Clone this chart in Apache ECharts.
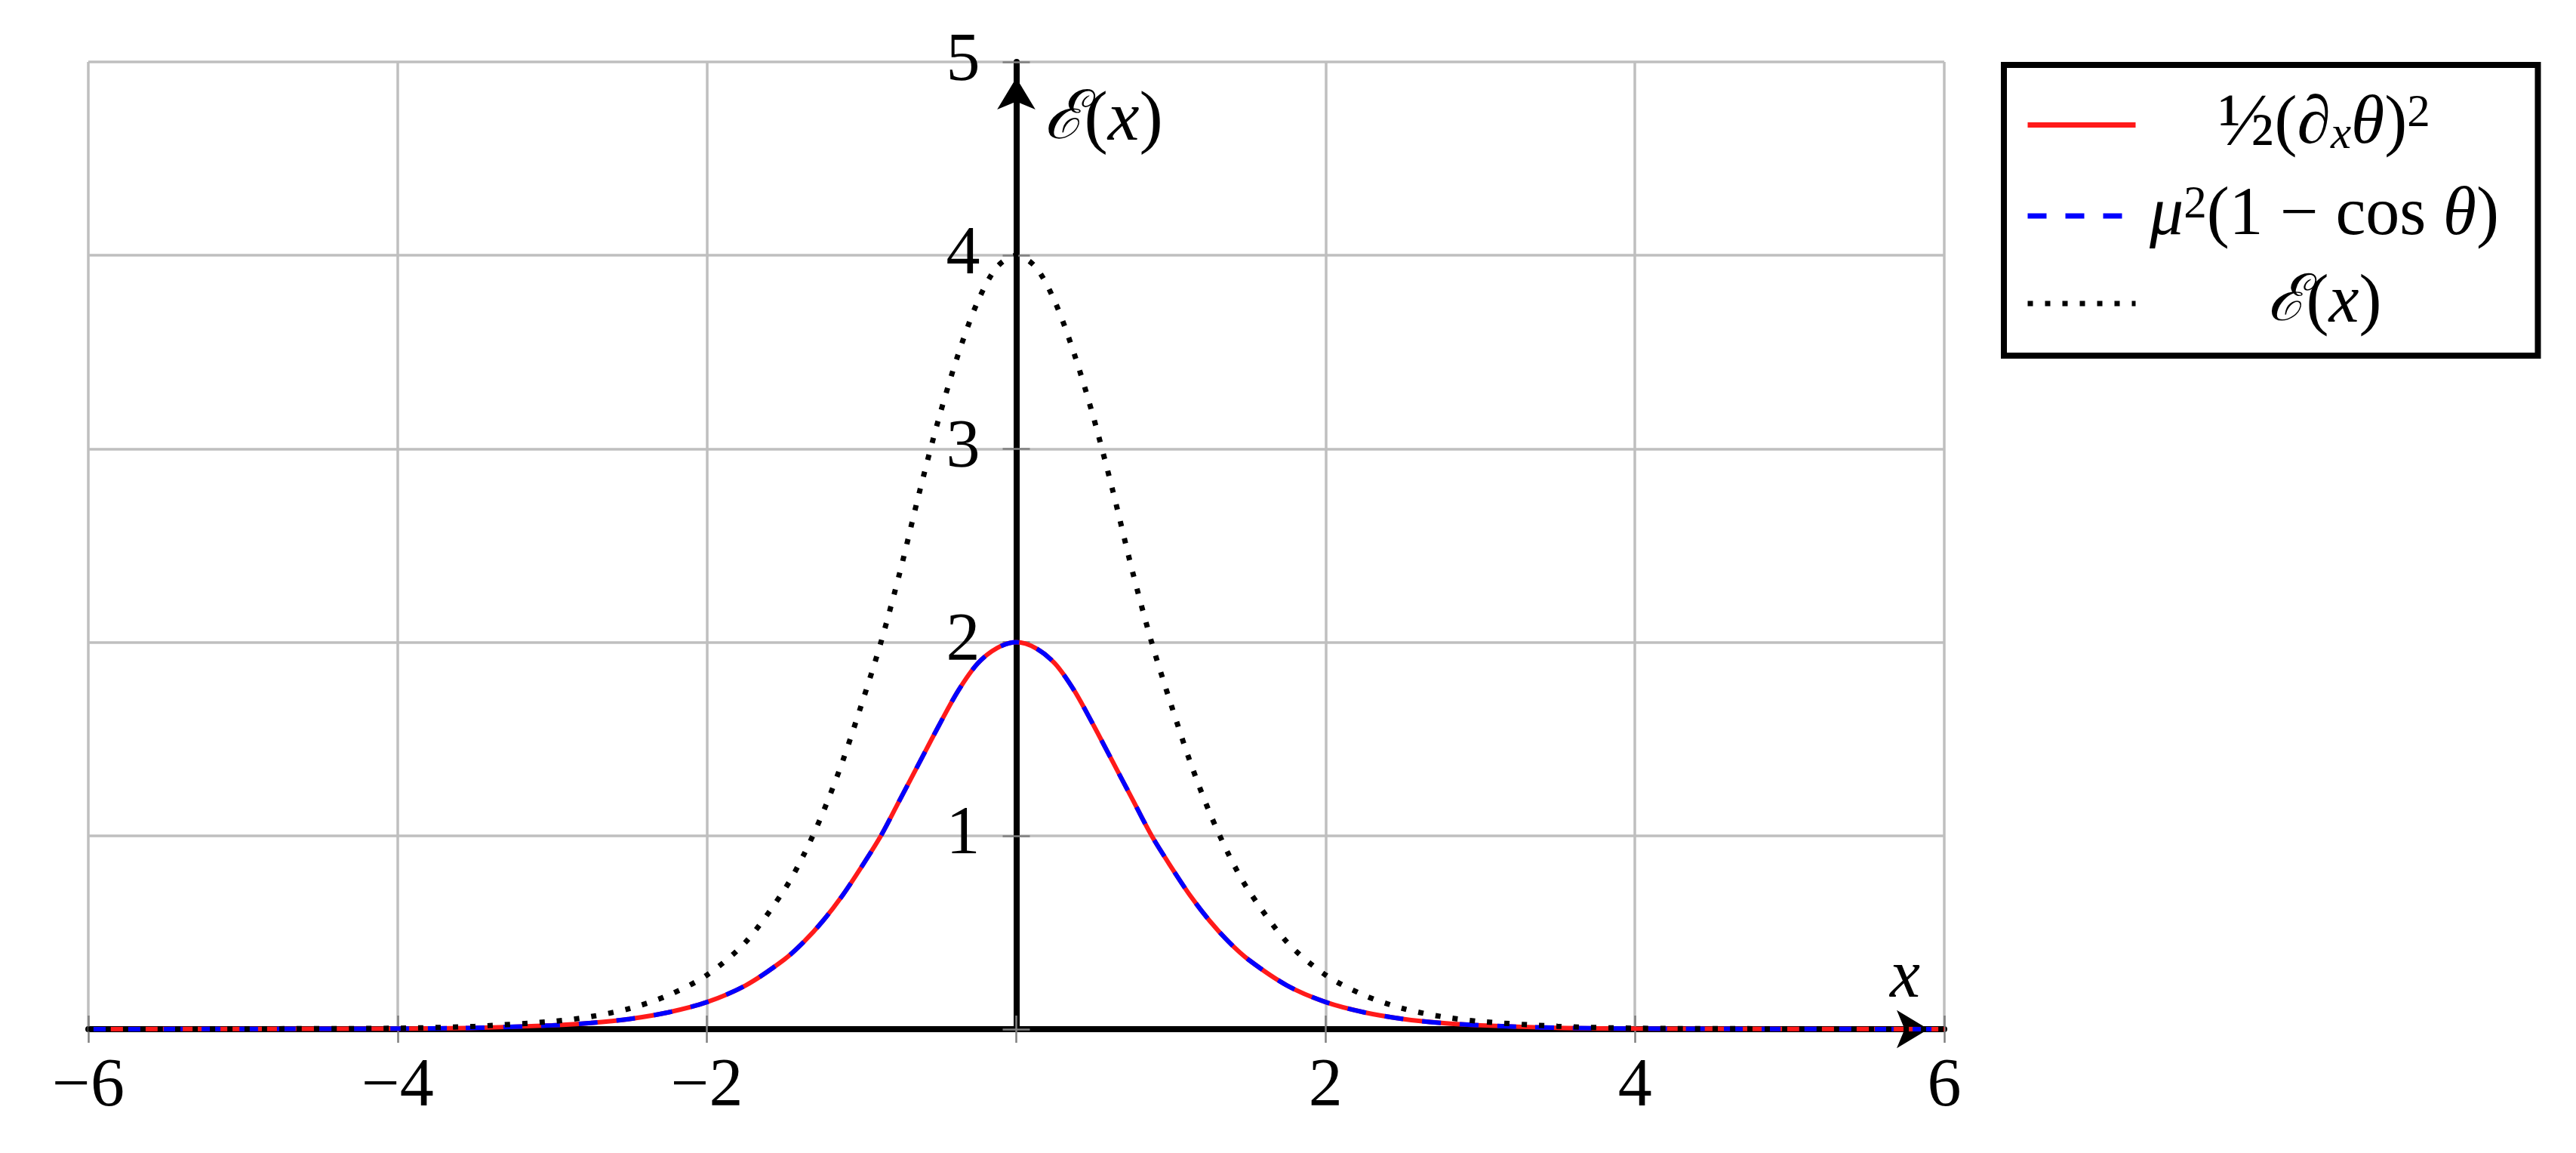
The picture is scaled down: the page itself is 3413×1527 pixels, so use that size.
<!DOCTYPE html>
<html>
<head>
<meta charset="utf-8">
<title>Kink energy density</title>
<script src="https://cdn.jsdelivr.net/npm/echarts@6/dist/echarts.min.js"></script>
<style>
  html, body { margin: 0; padding: 0; background: #fff; }
  #chart { width: 3413px; height: 1527px; }
</style>
</head>
<body>
<div id="chart"></div>
<script>
// values
const xs = [-6, -5, -4, -3.5, -3, -2.75, -2.5, -2.25, -2, -1.75, -1.5, -1.375, -1.25, -1.125, -1, -0.875, -0.75, -0.625,
  -0.5, -0.375, -0.25, -0.125, 0, 0.125, 0.25, 0.375, 0.5, 0.625, 0.75, 0.875, 1, 1.125, 1.25, 1.375, 1.5,
  1.75, 2, 2.25, 2.5, 2.75, 3, 3.5, 4, 5, 6];

// 1/2 (d_x theta)^2  (red, solid)
const gradientTerm = [0, 0.001, 0.003, 0.007, 0.02, 0.032, 0.053, 0.087, 0.14, 0.226, 0.36, 0.45, 0.56, 0.69, 0.84, 1.0, 1.19, 1.38,
  1.57, 1.75, 1.89, 1.97, 2.0, 1.97, 1.89, 1.75, 1.57, 1.38, 1.19, 1.0, 0.84, 0.69, 0.56, 0.45, 0.36,
  0.226, 0.14, 0.087, 0.053, 0.032, 0.02, 0.007, 0.003, 0.001, 0];

// mu^2 (1 - cos theta)  (blue, dashed) – lies on top of the red one
const potentialTerm = [0, 0.001, 0.003, 0.007, 0.02, 0.032, 0.053, 0.087, 0.14, 0.226, 0.36, 0.45, 0.56, 0.69, 0.84, 1.0, 1.19, 1.38,
  1.57, 1.75, 1.89, 1.97, 2.0, 1.97, 1.89, 1.75, 1.57, 1.38, 1.19, 1.0, 0.84, 0.69, 0.56, 0.45, 0.36,
  0.226, 0.14, 0.087, 0.053, 0.032, 0.02, 0.007, 0.003, 0.001, 0];

// E(x)  (black, dotted)
const energyDensity = [0, 0.002, 0.005, 0.015, 0.04, 0.065, 0.107, 0.175, 0.28, 0.45, 0.72, 0.9, 1.12, 1.38, 1.68, 2.0, 2.37, 2.78,
  3.16, 3.49, 3.76, 3.94, 4.0, 3.94, 3.76, 3.49, 3.16, 2.78, 2.37, 2.0, 1.68, 1.38, 1.12, 0.9, 0.72,
  0.45, 0.28, 0.175, 0.107, 0.065, 0.04, 0.015, 0.005, 0.002, 0];

const seriesNames = ["gradient", "potential", "energy"];
const legendLabels = {
  gradient: "{h|½}{t|(∂}{s|x}{i|θ}{t|)}{p|2}",
  potential: "{i|μ}{p|2}{t|(1 − cos }{i|θ}{t|)}",
  energy: "{e|ℰ}{t|(}{i|x}{t|)}",
};

const SERIF = "'Liberation Serif', 'DejaVu Serif', serif";
const GRID_GRAY = "#bfbfbf";
const TICK_GRAY = "#808080";

// grid: x = -6 at 117px, x = 6 at 2576px  ->  x = 0 sits 1229.5px right of the grid's left edge
const Y_AXIS_SHIFT = -1229.5;

const chart = echarts.init(document.getElementById("chart"));

const pairs = (ys) => xs.map((x, i) => [x, ys[i]]);
const tickFmt = (v) => (v === 0 ? "" : v < 0 ? "−" + Math.abs(v) : String(v));

// rich styles for the little formulas (sub/superscripts via vertical alignment)
const mathRich = (size, lh) => {
  const base = { fontFamily: SERIF, color: "#000", align: "center" };
  const small = Math.round(size * 0.68);
  return {
    t: { ...base, fontSize: size, lineHeight: lh, verticalAlign: "middle" },
    h: { ...base, fontSize: size * 1.1, lineHeight: lh, verticalAlign: "middle" },
    i: { ...base, fontSize: size, fontStyle: "italic", lineHeight: lh, verticalAlign: "middle" },
    s: { ...base, fontSize: small, fontStyle: "italic", lineHeight: small, verticalAlign: "bottom" },
    p: { ...base, fontSize: small, lineHeight: small, verticalAlign: "top" },
    e: { ...base, fontFamily: "'DejaVu Serif', serif", fontSize: size * 0.95, fontStyle: "italic", lineHeight: lh, verticalAlign: "middle" },
  };
};

const tickStyle = { color: TICK_GRAY, width: 2.5 };

chart.setOption({
  backgroundColor: "#fff",
  animation: false,
  grid: { left: 117, right: 837, top: 82, bottom: 164 },
  xAxis: [
    {
      type: "value",
      position: "bottom",
      min: -6,
      max: 6,
      interval: 2,
      axisLine: {
        onZero: false,
        symbol: ["none", "arrow"],
        symbolSize: [38, 42],
        symbolOffset: [0, -21],
        lineStyle: { color: "#000", width: 8 },
      },
      axisTick: { length: 18, lineStyle: tickStyle },
      axisLabel: { formatter: tickFmt, fontFamily: SERIF, fontSize: 90, color: "#000", margin: 32 },
      splitLine: { lineStyle: { color: GRID_GRAY, width: 3.5 } },
      name: "x",
      nameLocation: "end",
      nameGap: -52,
      nameTextStyle: {
        fontFamily: SERIF, fontSize: 90, fontStyle: "italic", color: "#000",
        align: "center", verticalAlign: "bottom", padding: [0, 0, 22, 0],
      },
    },
    {
      type: "value",
      position: "bottom",
      min: -6,
      max: 6,
      interval: 2,
      axisLine: { show: false, onZero: false },
      axisTick: { inside: true, length: 18, lineStyle: tickStyle },
      axisLabel: { show: false },
      splitLine: { show: false },
    },
  ],
  yAxis: [
    {
      type: "value",
      position: "left",
      offset: Y_AXIS_SHIFT,
      min: 0,
      max: 5,
      interval: 1,
      axisLine: {
        onZero: false,
        symbol: ["none", "arrow"],
        symbolSize: [38, 42],
        symbolOffset: [0, -21],
        lineStyle: { color: "#000", width: 8 },
      },
      axisTick: { length: 18, lineStyle: tickStyle },
      axisLabel: { formatter: tickFmt, fontFamily: SERIF, fontSize: 90, color: "#000", margin: 48 },
      splitLine: { lineStyle: { color: GRID_GRAY, width: 3.5 } },
      name: "{e|ℰ}{t|(}{i|x}{t|)}",
      nameLocation: "end",
      nameGap: -28,
      nameTextStyle: {
        align: "left", verticalAlign: "top", padding: [0, 0, 0, 36],
        rich: mathRich(94, 100),
      },
    },
    {
      type: "value",
      position: "left",
      offset: Y_AXIS_SHIFT,
      min: 0,
      max: 5,
      interval: 1,
      axisLine: { show: false, onZero: false },
      axisTick: { inside: true, length: 18, lineStyle: tickStyle },
      axisLabel: { show: false },
      splitLine: { show: false },
    },
  ],
  legend: {
    orient: "vertical",
    left: 2655,
    top: 86,
    padding: [30, 38, 24, 28],
    itemWidth: 143,
    itemHeight: 20,
    itemGap: 26,
    borderColor: "#000",
    borderWidth: 8,
    backgroundColor: "#fff",
    data: seriesNames,
    itemStyle: { opacity: 0 },
    lineStyle: { width: 7 },
    formatter: (name) => legendLabels[name],
    textStyle: { width: 490, lineHeight: 90, rich: mathRich(90, 90) },
  },
  series: [
    {
      name: seriesNames[0],
      type: "line",
      smooth: 0.3,
      symbol: "none",
      data: pairs(gradientTerm),
      lineStyle: { color: "#ff1a1a", width: 6 },
      itemStyle: { color: "#ff1a1a" },
      z: 3,
    },
    {
      name: seriesNames[1],
      type: "line",
      smooth: 0.3,
      symbol: "none",
      data: pairs(potentialTerm),
      lineStyle: { color: "#0000ff", width: 6, type: [25, 25], cap: "butt" },
      itemStyle: { color: "#0000ff" },
      z: 4,
    },
    {
      name: seriesNames[2],
      type: "line",
      smooth: 0.3,
      symbol: "none",
      data: pairs(energyDensity),
      lineStyle: { color: "#000", width: 7, type: [7, 16], cap: "butt" },
      itemStyle: { color: "#000" },
      z: 5,
    },
  ],
});

window.addEventListener("resize", () => chart.resize());
</script>
</body>
</html>
